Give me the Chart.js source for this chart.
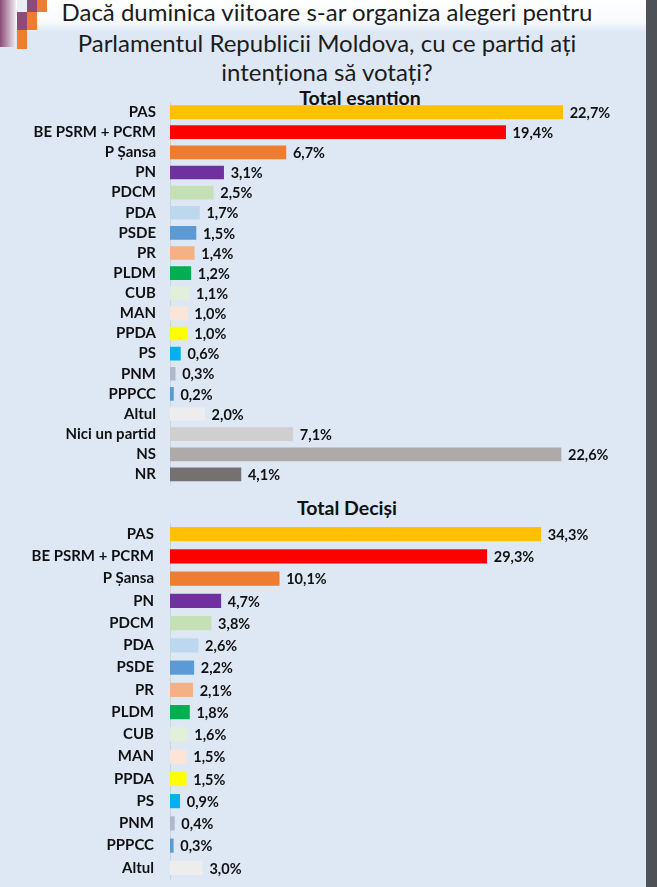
<!DOCTYPE html>
<html>
<head>
<meta charset="utf-8">
<script src="https://cdn.jsdelivr.net/npm/chart.js@4.4.0/dist/chart.umd.min.js"></script>
<style>
  html, body { margin:0; padding:0; }
  body { width:657px; height:887px; position:relative; overflow:hidden; background:#dee8f5; font-family: Lato, "Open Sans", sans-serif; }
  #band { position:absolute; left:0; top:0; width:646px; height:32px; background:linear-gradient(#ffffff, #f7f9fc 70%, #dee8f5); }
  #rightbar { position:absolute; left:646px; top:0; width:11px; height:887px; background:#4e5256; }
  .title { position:absolute; left:0; width:654px; text-align:center; font-size:24px; color:#1c1c1c; line-height:29px; white-space:nowrap; }
  .sub { position:absolute; font-weight:bold; font-size:19.5px; color:#111; white-space:nowrap; transform:translateX(-50%); }
  .deco { position:absolute; }
  canvas { position:absolute; left:0; }
</style>
</head>
<body>
<div id="band"></div>
<div id="rightbar"></div>
<div class="deco" style="left:0;top:0;width:16px;height:47px;background:linear-gradient(to right,#8a4a75,#f2eef4);"></div>
<div class="deco" style="left:17px;top:0;width:10px;height:12px;background:#e9eef6;"></div>
<div class="deco" style="left:27px;top:0;width:10px;height:12px;background:#8e4a7a;"></div>
<div class="deco" style="left:37px;top:0;width:10px;height:12px;background:#ed7d31;"></div>
<div class="deco" style="left:17px;top:12px;width:10px;height:18px;background:#8e4a7a;"></div>
<div class="deco" style="left:27px;top:12px;width:10px;height:18px;background:#ed7d31;"></div>
<div class="deco" style="left:17px;top:30px;width:10px;height:19px;background:#ed7d31;"></div>

<div class="title" style="top:-3px;">Dacă duminica viitoare s-ar organiza alegeri pentru</div>
<div class="title" style="top:28px;">Parlamentul Republicii Moldova, cu ce partid ați</div>
<div class="title" style="top:57px;">intenționa să votați?</div>

<div class="sub" style="left:360px; top:86px;">Total esantion</div>
<div class="sub" style="left:347px; top:496px;">Total Deciși</div>

<canvas id="c1" width="646" height="395" style="top:95px;width:646px;height:395px;"></canvas>
<canvas id="c2" width="646" height="372" style="top:515px;width:646px;height:372px;"></canvas>

<script>
// ---- data ----
const categoriesTotal = ["PAS","BE PSRM + PCRM","P Șansa","PN","PDCM","PDA","PSDE","PR","PLDM","CUB","MAN","PPDA","PS","PNM","PPPCC","Altul","Nici un partid","NS","NR"];
const valuesTotal = [22.7,19.4,6.7,3.1,2.5,1.7,1.5,1.4,1.2,1.1,1.0,1.0,0.6,0.3,0.2,2.0,7.1,22.6,4.1];
const colorsTotal = ["#FFC000","#FF0000","#ED7D31","#7030A0","#C5E0B4","#BDD7EE","#5B9BD5","#F4B183","#00B050","#E2F0D9","#FBE5D6","#FFFF00","#00B0F0","#ADB9CA","#5B9BD5","#EDEDED","#D0CECE","#AEAAAA","#767171"];

const categoriesDecided = ["PAS","BE PSRM + PCRM","P Șansa","PN","PDCM","PDA","PSDE","PR","PLDM","CUB","MAN","PPDA","PS","PNM","PPPCC","Altul"];
const valuesDecided = [34.3,29.3,10.1,4.7,3.8,2.6,2.2,2.1,1.8,1.6,1.5,1.5,0.9,0.4,0.3,3.0];
const colorsDecided = colorsTotal.slice(0, categoriesDecided.length);

// ---- helpers ----
const fmt = v => v.toFixed(1).replace('.', ',') + '%';
const labelFont = { family: 'Lato, "Open Sans", sans-serif', weight: 'bold', size: 15 };

const valueLabels = {
  id: 'valueLabels',
  afterDatasetsDraw(chart) {
    const ctx = chart.ctx;
    const meta = chart.getDatasetMeta(0);
    ctx.save();
    ctx.font = 'bold 14.5px Lato, "Open Sans", sans-serif';
    ctx.fillStyle = '#111';
    ctx.textBaseline = 'middle';
    ctx.textAlign = 'left';
    meta.data.forEach((bar, i) => {
      const v = chart.data.datasets[0].data[i];
      ctx.fillText(fmt(v), bar.x + 7, bar.y + 1);
    });
    ctx.restore();
  }
};

function makeChart(id, cats, vals, cols, xmax, pad, thick, tickPad) {
  return new Chart(document.getElementById(id), {
    type: 'bar',
    data: { labels: cats, datasets: [{ data: vals, backgroundColor: cols, barThickness: thick, borderWidth: 0 }] },
    options: {
      indexAxis: 'y',
      responsive: false,
      animation: false,
      devicePixelRatio: 1,
      layout: { padding: pad },
      plugins: { legend: { display: false }, tooltip: { enabled: false } },
      scales: {
        x: { display: false, min: 0, max: xmax },
        y: {
          afterFit(scale) { scale.width = 170; scale.paddingTop = 0; scale.paddingBottom = 0; },
          grid: { display: true, drawOnChartArea: false, drawTicks: false, color: 'rgba(0,0,0,0)' },
          border: { display: true, color: '#cdd3da', width: 1 },
          ticks: { color: '#111', font: labelFont, padding: tickPad, autoSkip: false }
        }
      }
    },
    plugins: [valueLabels]
  });
}

makeChart('c1', categoriesTotal, valuesTotal, colorsTotal, 470 / 17.3, { left: 0, right: 6, top: 7, bottom: 5.5 }, 13, 14);
makeChart('c2', categoriesDecided, valuesDecided, colorsDecided, 470 / 10.81, { left: 0, right: 6, top: 8, bottom: 8 }, 13.5, 16);
</script>
</body>
</html>
